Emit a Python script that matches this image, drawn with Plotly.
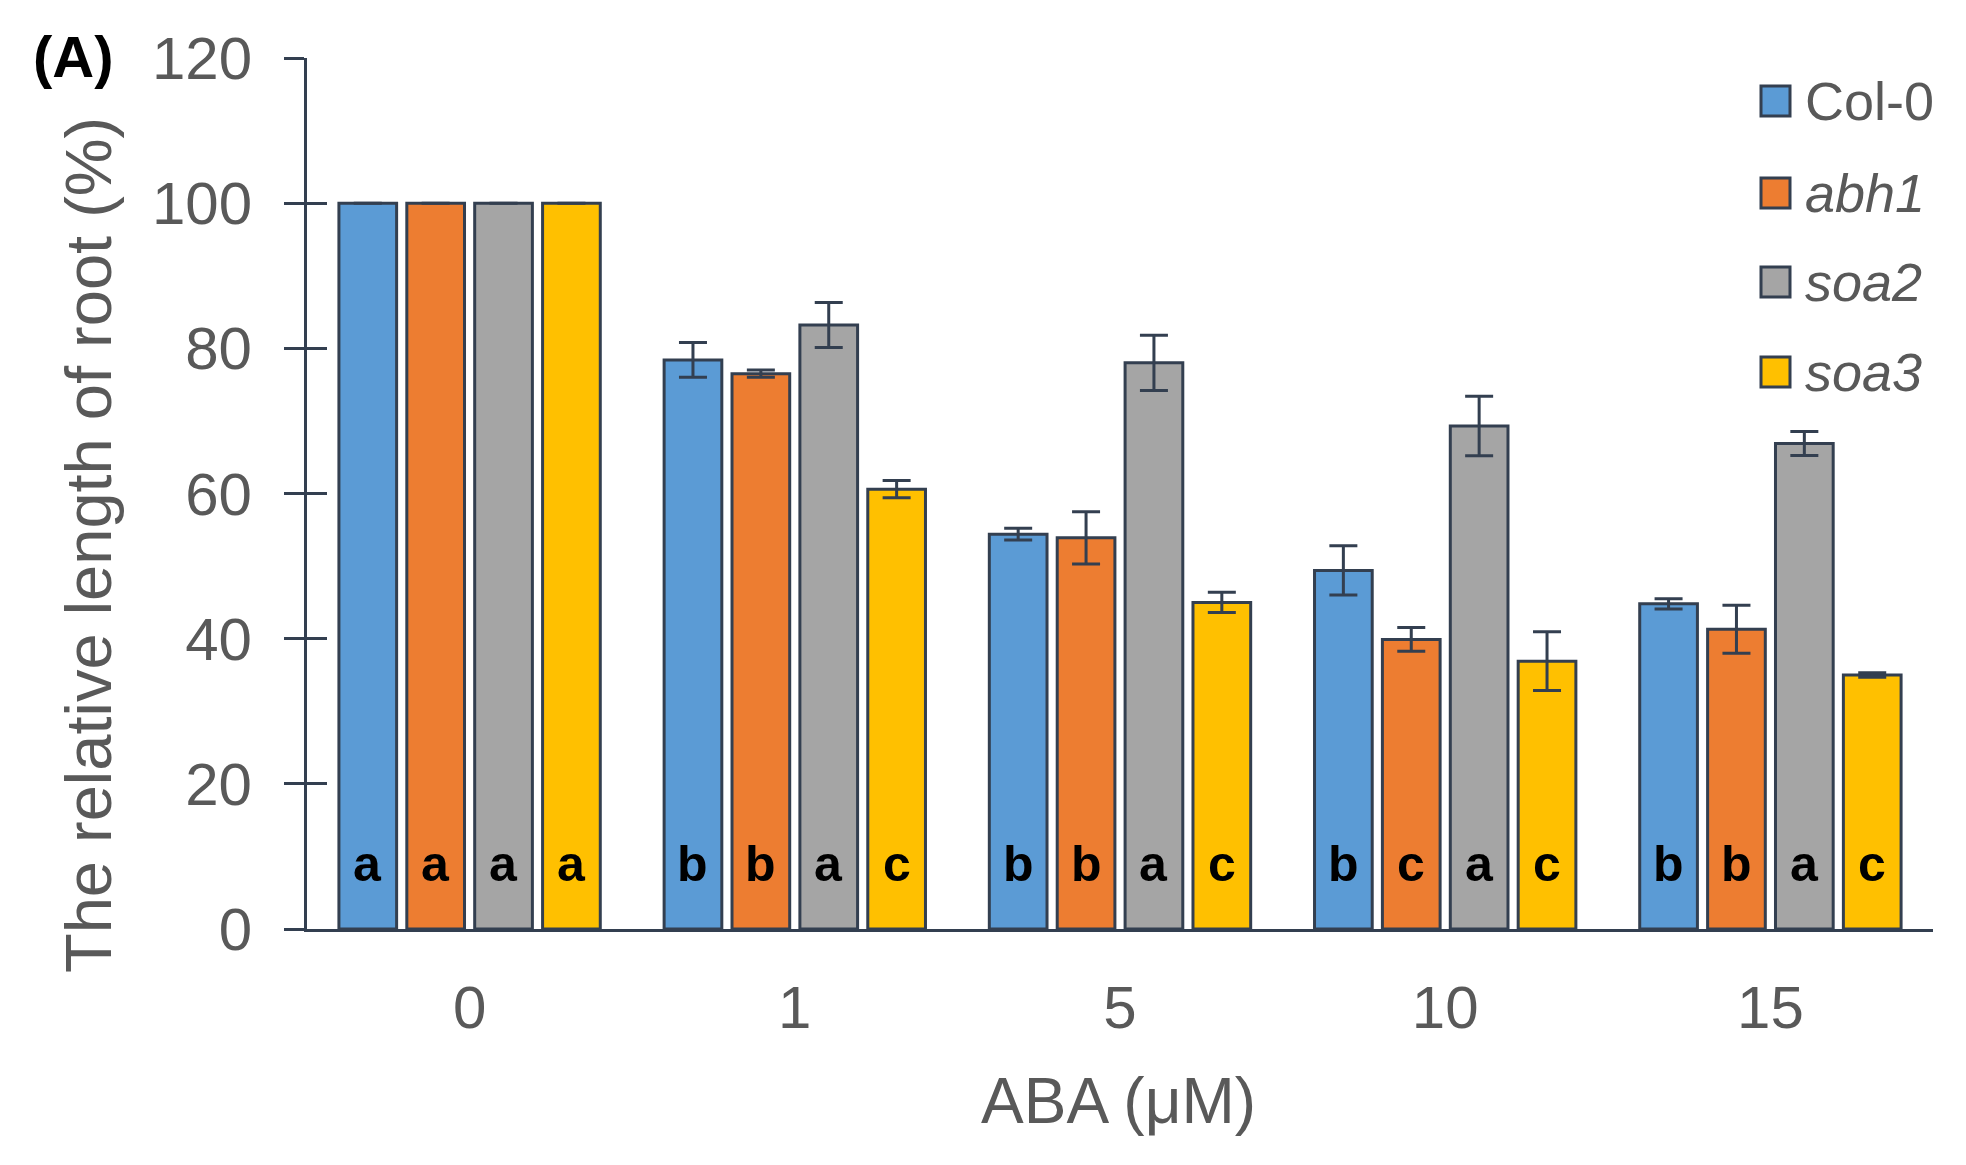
import plotly.graph_objects as go

# ---------------- data ----------------
categories = ["0", "1", "5", "10", "15"]
series_names = ["Col-0", "abh1", "soa2", "soa3"]
col0 = [100, 78.4, 54.4, 49.4, 44.8]
col0_err = [0, 2.4, 0.8, 3.4, 0.7]
abh1 = [100, 76.5, 53.9, 39.9, 41.3]
abh1_err = [0, 0.5, 3.6, 1.65, 3.3]
soa2 = [100, 83.2, 78.0, 69.3, 66.9]
soa2_err = [0, 3.1, 3.8, 4.1, 1.65]
soa3 = [100, 60.6, 45.0, 36.9, 35.0]
soa3_err = [0, 1.2, 1.4, 4.05, 0.3]
col0_letters = ["a", "b", "b", "b", "b"]
abh1_letters = ["a", "b", "b", "c", "b"]
soa2_letters = ["a", "a", "a", "a", "a"]
soa3_letters = ["a", "c", "c", "c", "c"]
y_ticks = [0, 20, 40, 60, 80, 100, 120]

# ---------------- style ----------------
W, H = 1966, 1165
OFF = 8  # page body margin
X_LEFT, X_RIGHT, Y_TOP, Y_BOT = 307, 1933, 58, 929  # target plot area (screen px)
L = X_LEFT - OFF
T = Y_TOP - OFF
R = W - (X_RIGHT - OFF)
B = H - (Y_BOT - OFF)
FONT = "Liberation Sans, Arial, sans-serif"
TXT = "#595959"
DARK = "#333f50"
colors = ["#5b9bd5", "#ed7d31", "#a5a5a5", "#ffc000"]
BARGAP = 0.165
GROUPGAP = 0.15

values = [col0, abh1, soa2, soa3]
errors = [col0_err, abh1_err, soa2_err, soa3_err]
letters = [col0_letters, abh1_letters, soa2_letters, soa3_letters]

PW = X_RIGHT - X_LEFT
PH = Y_BOT - Y_TOP


def px(xp):
    return (xp - X_LEFT) / PW


def py(yp):
    return (Y_BOT - yp) / PH


fig = go.Figure()
for name, v, e, c in zip(series_names, values, errors, colors):
    fig.add_trace(go.Bar(
        x=categories, y=v, name=name,
        marker=dict(color=c, line=dict(color=DARK, width=3)),
        error_y=dict(type="data", array=e, visible=True, color=DARK,
                     thickness=3, width=14),
        showlegend=False,
    ))

# invisible trace for overlay axis (crossing ticks)
fig.add_trace(go.Scatter(x=[categories[0]], y=[None], yaxis="y2",
                         showlegend=False, hoverinfo="skip", mode="markers"))

annotations = []
slot = (1 - BARGAP) / 4
LETTER_Y = 9.0
for i, lets in enumerate(letters):
    for j, lt in enumerate(lets):
        annotations.append(dict(
            x=j + (i - 1.5) * slot, y=LETTER_Y, xref="x", yref="y",
            text="<b>%s</b>" % lt, showarrow=False,
            font=dict(family=FONT, size=50, color="black"),
            xanchor="center", yanchor="middle"))

# axis titles and panel label
annotations.append(dict(x=px(1118), y=py(1101), xref="paper", yref="paper",
                        text="ABA (μM)", showarrow=False,
                        font=dict(family=FONT, size=64, color=TXT),
                        xanchor="center", yanchor="middle"))
annotations.append(dict(x=px(88), y=py(545), xref="paper", yref="paper",
                        text="The relative length of root (%)", showarrow=False,
                        textangle=-90,
                        font=dict(family=FONT, size=65, color=TXT),
                        xanchor="center", yanchor="middle"))
annotations.append(dict(x=px(73), y=py(56), xref="paper", yref="paper",
                        text="<b>(A)</b>", showarrow=False,
                        font=dict(family=FONT, size=58, color="black"),
                        xanchor="center", yanchor="middle"))

# manual legend
shapes = []
leg_y = [101, 193, 282, 372]
for k, (name, c) in enumerate(zip(series_names, colors)):
    yc = leg_y[k]
    shapes.append(dict(type="rect", xref="paper", yref="paper",
                       x0=px(1761), x1=px(1790), y0=py(yc + 15), y1=py(yc - 15),
                       fillcolor=c, line=dict(color=DARK, width=3)))
    label = name if k == 0 else "<i>%s</i>" % name
    annotations.append(dict(x=px(1803), y=py(yc), xref="paper", yref="paper",
                            text=label, showarrow=False,
                            font=dict(family=FONT, size=54, color=TXT),
                            xanchor="left", yanchor="middle"))

fig.update_layout(
    width=W, height=H,
    margin=dict(l=L, r=R, t=T, b=B, pad=0),
    paper_bgcolor="white", plot_bgcolor="white",
    barmode="group", bargap=BARGAP, bargroupgap=GROUPGAP,
    xaxis=dict(type="category", range=[-0.5, 4.5], showline=True,
               linecolor=DARK, linewidth=3, ticks="", showgrid=False,
               zeroline=False,
               tickfont=dict(family=FONT, size=60, color=TXT),
               ticklabelstandoff=24),
    yaxis=dict(range=[0, 120], tickvals=y_ticks, showline=True,
               linecolor=DARK, linewidth=3, ticks="outside", ticklen=20,
               tickwidth=3, tickcolor=DARK, showgrid=False, zeroline=False,
               tickfont=dict(family=FONT, size=60, color=TXT),
               ticklabelstandoff=20),
    yaxis2=dict(range=[0, 120], tickvals=y_ticks, overlaying="y", side="left",
                showline=False, ticks="inside", ticklen=20, tickwidth=3,
                tickcolor=DARK, showticklabels=False, showgrid=False,
                zeroline=False),
    annotations=annotations,
    shapes=shapes,
)

fig.write_html("out.html")
